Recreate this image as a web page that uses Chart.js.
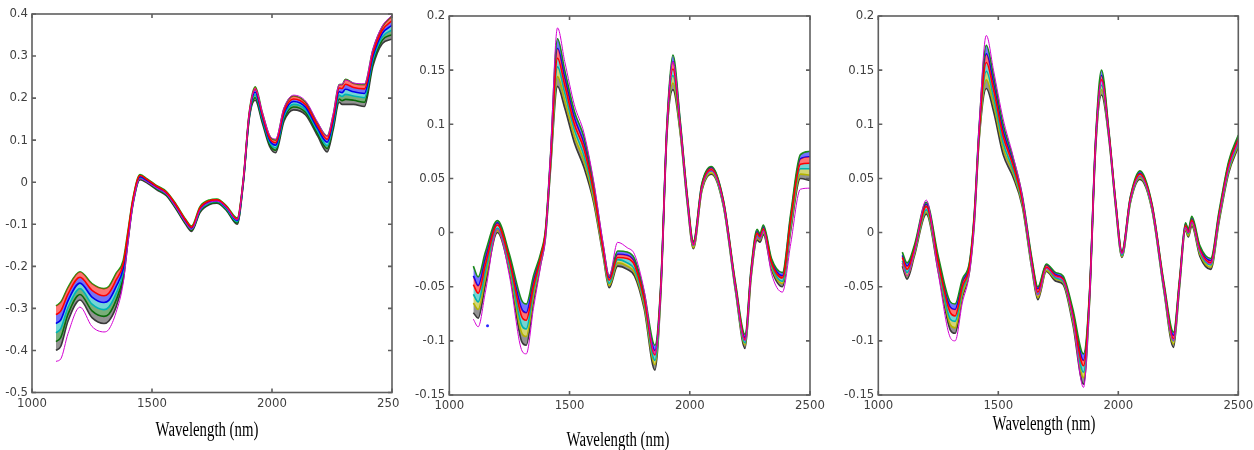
<!DOCTYPE html>
<html>
<head>
<meta charset="utf-8">
<script src="https://cdn.jsdelivr.net/npm/chart.js@4.4.0/dist/chart.umd.min.js"></script>
<style>
  html, body { margin: 0; padding: 0; background: #fff; }
  body { position: relative; width: 1254px; height: 450px; overflow: hidden; }
  .panel { position: absolute; top: 0; height: 450px; }
  canvas { display: block; }
</style>
</head>
<body>
<div class="panel" style="left:0px"><canvas id="raw" width="399" height="450"></canvas></div>
<div class="panel" style="left:400px"><canvas id="snv" width="430" height="450"></canvas></div>
<div class="panel" style="left:830px"><canvas id="msc" width="424" height="450"></canvas></div>
<script>
// wavelength grid (nm), shared by the three plots
const wl = [1100,1120,1150,1200,1250,1300,1320,1350,1380,1400,1420,1450,1480,1520,1560,1600,1640,1665,1700,1740,
            1770,1810,1855,1880,1905,1930,1960,1990,2015,2050,2090,2140,2190,2230,2255,2280,2292,2306,2340,2385,
            2420,2460,2500];

const xTicks = [1000, 1500, 2000, 2500];
const yTicksRaw = [-0.5, -0.4, -0.3, -0.2, -0.1, 0, 0.1, 0.2, 0.3, 0.4];
const yTicksPre = [-0.15, -0.1, -0.05, 0, 0.05, 0.1, 0.15, 0.2];
const xTitle = 'Wavelength (nm)';

// raw spectra
const r1 = [-0.294,-0.285,-0.250,-0.213,-0.241,-0.253,-0.248,-0.217,-0.186,-0.115,-0.040,0.018,0.008,-0.008,-0.022,-0.052,-0.088,-0.104,-0.058,-0.042,-0.040,-0.056,-0.085,0.005,0.165,0.227,0.165,0.110,0.100,0.175,0.205,0.190,0.140,0.110,0.160,0.232,0.232,0.245,0.235,0.232,0.314,0.370,0.395];
const r2 = [-0.315,-0.306,-0.266,-0.226,-0.257,-0.270,-0.264,-0.233,-0.195,-0.120,-0.043,0.016,0.006,-0.010,-0.024,-0.054,-0.090,-0.107,-0.061,-0.044,-0.042,-0.058,-0.088,0.003,0.162,0.221,0.160,0.105,0.094,0.169,0.198,0.184,0.134,0.102,0.153,0.224,0.223,0.233,0.225,0.222,0.306,0.362,0.384];
const r3 = [-0.336,-0.327,-0.282,-0.240,-0.273,-0.286,-0.281,-0.249,-0.205,-0.125,-0.046,0.013,0.004,-0.012,-0.026,-0.057,-0.093,-0.109,-0.064,-0.046,-0.044,-0.060,-0.091,0.001,0.159,0.214,0.155,0.100,0.088,0.163,0.192,0.178,0.128,0.095,0.146,0.215,0.213,0.221,0.215,0.211,0.298,0.354,0.373];
const r4 = [-0.358,-0.348,-0.298,-0.253,-0.290,-0.303,-0.297,-0.265,-0.214,-0.130,-0.049,0.011,0.002,-0.014,-0.028,-0.059,-0.095,-0.112,-0.066,-0.049,-0.046,-0.063,-0.094,-0.001,0.156,0.208,0.150,0.095,0.082,0.157,0.185,0.172,0.122,0.087,0.139,0.207,0.204,0.209,0.205,0.201,0.291,0.346,0.362];
const r5 = [-0.379,-0.369,-0.314,-0.267,-0.306,-0.319,-0.314,-0.281,-0.224,-0.135,-0.052,0.008,0.000,-0.016,-0.030,-0.062,-0.098,-0.114,-0.069,-0.051,-0.048,-0.065,-0.097,-0.003,0.153,0.201,0.145,0.090,0.076,0.151,0.179,0.166,0.116,0.080,0.132,0.198,0.194,0.197,0.195,0.190,0.283,0.338,0.351];
const r6 = [-0.400,-0.390,-0.330,-0.280,-0.322,-0.336,-0.330,-0.297,-0.233,-0.140,-0.055,0.006,-0.002,-0.018,-0.032,-0.064,-0.100,-0.117,-0.072,-0.053,-0.050,-0.067,-0.100,-0.005,0.150,0.195,0.140,0.085,0.070,0.145,0.172,0.160,0.110,0.072,0.125,0.190,0.185,0.185,0.185,0.180,0.275,0.330,0.340];
const rOut = [-0.426,-0.420,-0.360,-0.297,-0.343,-0.356,-0.350,-0.310,-0.240,-0.145,-0.056,0.008,0.000,-0.014,-0.028,-0.060,-0.096,-0.112,-0.066,-0.048,-0.045,-0.060,-0.090,0.003,0.162,0.222,0.166,0.112,0.103,0.177,0.207,0.193,0.143,0.110,0.163,0.232,0.233,0.243,0.236,0.234,0.316,0.372,0.397];

// second plot
const s1 = [-0.031,-0.041,-0.018,0.011,-0.020,-0.062,-0.066,-0.040,-0.019,0.003,0.068,0.179,0.150,0.112,0.088,0.045,-0.012,-0.040,-0.017,-0.018,-0.024,-0.055,-0.104,-0.045,0.100,0.164,0.104,0.034,-0.008,0.045,0.061,0.030,-0.046,-0.094,-0.033,0.003,-0.001,0.007,-0.024,-0.037,0.018,0.072,0.075];
const s2 = [-0.040,-0.049,-0.024,0.009,-0.023,-0.070,-0.074,-0.045,-0.021,0.001,0.065,0.170,0.143,0.106,0.082,0.042,-0.014,-0.042,-0.020,-0.021,-0.027,-0.058,-0.109,-0.047,0.098,0.158,0.102,0.032,-0.009,0.044,0.060,0.029,-0.048,-0.097,-0.035,0.001,-0.003,0.005,-0.026,-0.040,0.015,0.068,0.070];
const s3 = [-0.048,-0.056,-0.030,0.007,-0.026,-0.077,-0.081,-0.050,-0.023,0.000,0.063,0.161,0.136,0.100,0.077,0.038,-0.016,-0.044,-0.023,-0.024,-0.030,-0.061,-0.113,-0.049,0.096,0.151,0.099,0.031,-0.011,0.042,0.058,0.028,-0.049,-0.099,-0.037,-0.001,-0.004,0.003,-0.028,-0.042,0.012,0.063,0.064];
const s4 = [-0.057,-0.064,-0.036,0.004,-0.030,-0.085,-0.089,-0.054,-0.025,-0.002,0.060,0.153,0.129,0.095,0.071,0.035,-0.018,-0.047,-0.025,-0.028,-0.034,-0.064,-0.118,-0.051,0.094,0.145,0.097,0.029,-0.012,0.041,0.057,0.026,-0.051,-0.102,-0.038,-0.003,-0.006,0.002,-0.030,-0.045,0.008,0.059,0.059];
const s5 = [-0.065,-0.071,-0.042,0.002,-0.033,-0.092,-0.096,-0.059,-0.027,-0.003,0.058,0.144,0.122,0.089,0.066,0.031,-0.020,-0.049,-0.028,-0.031,-0.037,-0.067,-0.122,-0.053,0.092,0.138,0.094,0.028,-0.014,0.039,0.055,0.025,-0.052,-0.104,-0.040,-0.005,-0.007,0.000,-0.032,-0.047,0.005,0.054,0.053];
const s6 = [-0.074,-0.079,-0.048,0.000,-0.036,-0.100,-0.104,-0.064,-0.029,-0.005,0.055,0.135,0.115,0.083,0.060,0.028,-0.022,-0.051,-0.031,-0.034,-0.040,-0.070,-0.127,-0.055,0.090,0.132,0.092,0.026,-0.015,0.038,0.054,0.024,-0.054,-0.107,-0.042,-0.007,-0.009,-0.002,-0.034,-0.050,0.002,0.050,0.048];
const sOut = [-0.080,-0.087,-0.055,0.003,-0.040,-0.108,-0.112,-0.070,-0.031,-0.004,0.070,0.189,0.158,0.118,0.092,0.048,-0.010,-0.040,-0.009,-0.014,-0.020,-0.053,-0.112,-0.050,0.096,0.158,0.100,0.030,-0.012,0.041,0.057,0.027,-0.050,-0.100,-0.038,-0.004,-0.006,0.002,-0.038,-0.055,-0.010,0.040,0.041];
const sDotX = [1159];
const sDotY = [-0.086];

// third plot
const m1 = [-0.018,-0.028,-0.012,0.028,-0.022,-0.064,-0.066,-0.043,-0.027,0.018,0.097,0.173,0.145,0.100,0.070,0.034,-0.024,-0.050,-0.029,-0.037,-0.040,-0.070,-0.112,-0.055,0.085,0.150,0.096,0.027,-0.017,0.033,0.057,0.027,-0.046,-0.092,-0.043,0.009,0.003,0.015,-0.012,-0.024,0.020,0.066,0.090];
const m2 = [-0.021,-0.031,-0.014,0.026,-0.025,-0.069,-0.071,-0.046,-0.029,0.016,0.095,0.165,0.138,0.094,0.066,0.032,-0.026,-0.052,-0.030,-0.039,-0.042,-0.073,-0.118,-0.057,0.083,0.145,0.094,0.026,-0.018,0.032,0.055,0.026,-0.048,-0.095,-0.045,0.008,0.002,0.013,-0.014,-0.026,0.018,0.064,0.088];
const m3 = [-0.023,-0.034,-0.016,0.024,-0.028,-0.074,-0.077,-0.050,-0.031,0.014,0.092,0.157,0.132,0.089,0.063,0.030,-0.028,-0.055,-0.032,-0.040,-0.043,-0.076,-0.123,-0.059,0.081,0.141,0.093,0.025,-0.019,0.031,0.054,0.025,-0.049,-0.098,-0.046,0.006,0.000,0.011,-0.016,-0.028,0.016,0.062,0.086];
const m4 = [-0.026,-0.037,-0.018,0.021,-0.030,-0.080,-0.082,-0.053,-0.032,0.012,0.090,0.149,0.125,0.083,0.059,0.028,-0.030,-0.057,-0.033,-0.042,-0.045,-0.078,-0.129,-0.061,0.079,0.136,0.091,0.023,-0.021,0.029,0.052,0.023,-0.051,-0.100,-0.048,0.005,-0.001,0.010,-0.018,-0.030,0.014,0.059,0.083];
const m5 = [-0.028,-0.040,-0.020,0.019,-0.033,-0.085,-0.088,-0.057,-0.034,0.010,0.087,0.141,0.119,0.078,0.056,0.026,-0.032,-0.060,-0.035,-0.043,-0.046,-0.081,-0.134,-0.063,0.077,0.132,0.090,0.022,-0.022,0.028,0.051,0.022,-0.052,-0.103,-0.049,0.003,-0.003,0.008,-0.020,-0.032,0.012,0.057,0.081];
const m6 = [-0.031,-0.043,-0.022,0.017,-0.036,-0.090,-0.093,-0.060,-0.036,0.008,0.085,0.133,0.112,0.072,0.052,0.024,-0.034,-0.062,-0.036,-0.045,-0.048,-0.084,-0.140,-0.065,0.075,0.127,0.088,0.021,-0.023,0.027,0.049,0.021,-0.054,-0.106,-0.051,0.002,-0.004,0.006,-0.022,-0.034,0.010,0.055,0.079];
const mOut = [-0.028,-0.040,-0.018,0.030,-0.038,-0.097,-0.100,-0.065,-0.037,0.010,0.098,0.182,0.150,0.105,0.072,0.034,-0.030,-0.058,-0.033,-0.041,-0.044,-0.078,-0.143,-0.062,0.080,0.140,0.092,0.024,-0.020,0.030,0.052,0.024,-0.050,-0.100,-0.047,0.005,0.000,0.010,-0.017,-0.029,0.015,0.060,0.084];

// matlab-ish line colours, top of the band first
const rawColors = ['#13a313', '#ff0000', '#0000ee', '#00b4b4', '#0b6b0b', '#3a3a3a'];
const preColors = ['#1b8a1b', '#0000ff', '#ff0000', '#00b0b0', '#b3b300', '#3a3a3a'];
const outColor = '#d400d4';

function rgba(hex, a) {
  const n = parseInt(hex.slice(1), 16);
  return `rgba(${n >> 16},${(n >> 8) & 255},${n & 255},${a})`;
}
const pts = ys => wl.map((w, i) => ({ x: w, y: ys[i] }));

// box + inward ticks on all four sides
const frame = {
  id: 'frame',
  afterDatasetsDraw(chart) {
    const { ctx, chartArea: a, scales: { x, y } } = chart;
    ctx.save();
    ctx.strokeStyle = '#5f5f5f';
    ctx.lineWidth = 1.6;
    ctx.strokeRect(a.left, a.top, a.width, a.height);
    ctx.beginPath();
    x.ticks.forEach(t => {
      const px = x.getPixelForValue(t.value);
      ctx.moveTo(px, a.bottom); ctx.lineTo(px, a.bottom - 4);
      ctx.moveTo(px, a.top); ctx.lineTo(px, a.top + 4);
    });
    y.ticks.forEach(t => {
      const py = y.getPixelForValue(t.value);
      ctx.moveTo(a.left, py); ctx.lineTo(a.left + 4, py);
      ctx.moveTo(a.right, py); ctx.lineTo(a.right - 4, py);
    });
    ctx.stroke();
    ctx.restore();
  }
};

// axis caption, squeezed sideways like the original figure
const caption = {
  id: 'caption',
  afterDraw(chart, args, opts) {
    const { ctx } = chart;
    ctx.save();
    ctx.font = '20px "Liberation Serif", "Times New Roman", serif';
    ctx.fillStyle = '#000';
    ctx.textAlign = 'center';
    ctx.textBaseline = 'alphabetic';
    ctx.translate(opts.x, opts.y);
    ctx.scale(0.74, 1);
    ctx.fillText(opts.text, 0, 0);
    ctx.restore();
  }
};

const tickFont = { family: '"Liberation Sans Narrow", "DejaVu Sans Condensed", sans-serif', size: 13 };

function spectraChart(id, bands, colors, outlier, yTicks, box, dots) {
  const datasets = bands.map((ys, i) => ({
    data: pts(ys),
    borderColor: colors[i],
    backgroundColor: rgba(colors[i], 0.55),
    borderWidth: 1.6,
    fill: i === 0 ? false : '-1',
    order: colors[i] === '#ff0000' ? -1 : 0
  }));
  datasets.push({ data: pts(outlier), borderColor: outColor, borderWidth: 1, fill: false, order: -2 });
  if (dots) {
    datasets.push({
      data: dots.x.map((v, i) => ({ x: v, y: dots.y[i] })),
      showLine: false, pointRadius: 1.5, pointBackgroundColor: '#2a2aff', pointBorderWidth: 0, order: -3
    });
  }
  return new Chart(document.getElementById(id), {
    type: 'line',
    data: { datasets },
    options: {
      responsive: false,
      animation: false,
      events: [],
      layout: { padding: { left: 0, top: box.top, right: box.right, bottom: 0 } },
      elements: {
        point: { radius: 0 },
        line: { cubicInterpolationMode: 'monotone' }
      },
      plugins: {
        legend: { display: false },
        tooltip: { enabled: false },
        caption: { text: xTitle, x: box.titleX, y: box.titleY }
      },
      scales: {
        x: {
          type: 'linear', min: 1000, max: 2500,
          grid: { display: false, drawTicks: false },
          border: { display: false },
          afterBuildTicks: s => { s.ticks = xTicks.map(v => ({ value: v })); },
          ticks: { font: tickFont, color: '#404040', padding: 3, maxRotation: 0, autoSkip: false,
                   callback: v => String(v) },
          afterFit: s => { s.height = box.xh; s.paddingLeft = 0; s.paddingRight = 0; }
        },
        y: {
          min: yTicks[0], max: yTicks[yTicks.length - 1],
          grid: { display: false, drawTicks: false },
          border: { display: false },
          afterBuildTicks: s => { s.ticks = yTicks.map(v => ({ value: v })); },
          ticks: { font: tickFont, color: '#404040', padding: 4, autoSkip: false,
                   callback: v => String(+v.toFixed(2)) },
          afterFit: s => { s.width = box.left; s.paddingTop = 0; s.paddingBottom = 0; }
        }
      }
    },
    plugins: [frame, caption]
  });
}

spectraChart('raw', [r1, r2, r3, r4, r5, r6], rawColors, rOut, yTicksRaw,
  { left: 32, right: 7, top: 14, xh: 57.5, titleX: 207, titleY: 436 });
spectraChart('snv', [s1, s2, s3, s4, s5, s6], preColors, sOut, yTicksPre,
  { left: 49.3, right: 20, top: 16, xh: 55, titleX: 218, titleY: 446 }, { x: sDotX, y: sDotY });
spectraChart('msc', [m1, m2, m3, m4, m5, m6], preColors, mOut, yTicksPre,
  { left: 48.3, right: 15.7, top: 16, xh: 55, titleX: 214, titleY: 430 });
</script>
</body>
</html>
